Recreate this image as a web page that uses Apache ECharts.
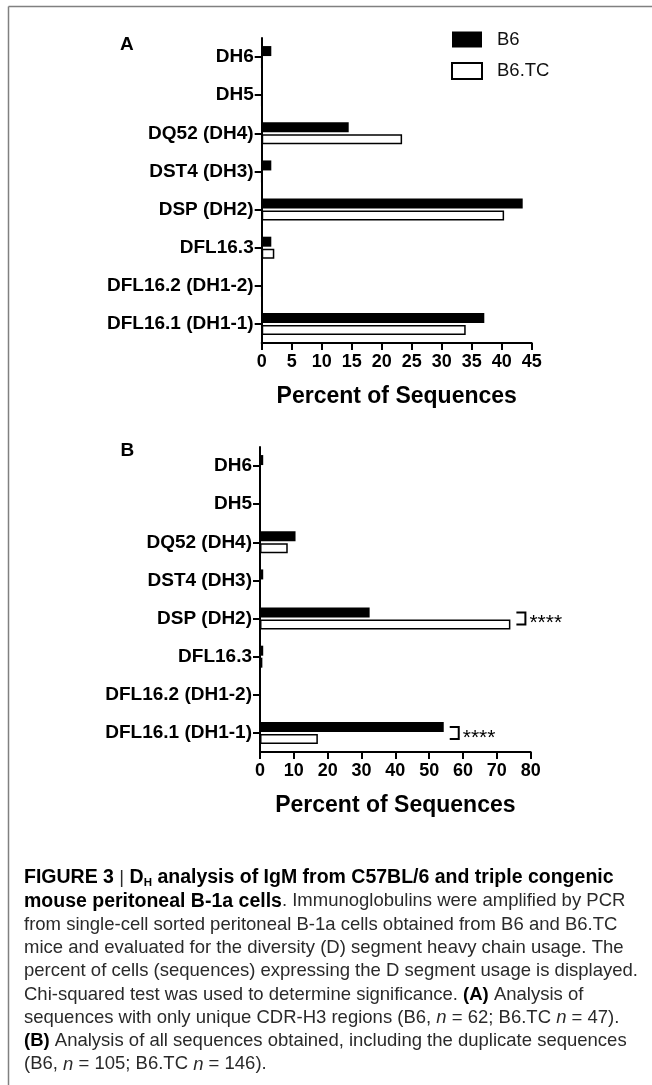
<!DOCTYPE html>
<html><head><meta charset="utf-8">
<script src="https://cdn.jsdelivr.net/npm/echarts@6/dist/echarts.min.js"></script>
<style>html,body{margin:0;padding:0;background:#fff}#c{width:652px;height:1085px}</style>
</head><body><div id="c"></div>
<script>
// ---- data ----
const categories = ['DH6', 'DH5', 'DQ52 (DH4)', 'DST4 (DH3)', 'DSP (DH2)', 'DFL16.3', 'DFL16.2 (DH1-2)', 'DFL16.1 (DH1-1)'];
const seriesNames = ['B6', 'B6.TC'];
const b6A = [1.6, 0, 14.5, 1.6, 43.5, 1.6, 0, 37.1];
const tcA = [0, 0, 23.4, 0, 40.4, 2.1, 0, 34.0];
const b6B = [0.95, 0, 10.5, 0.95, 32.4, 0.95, 0, 54.3];
const tcB = [0, 0, 8.2, 0, 74.0, 0.7, 0, 17.1];
const sigB = [{cat: 'DSP (DH2)', text: '****'}, {cat: 'DFL16.1 (DH1-1)', text: '****'}];
const axisA = {min: 0, max: 45, interval: 5};
const axisB = {min: 0, max: 80, interval: 10};
const axisTitle = 'Percent of Sequences';
const panelLabels = ['A', 'B'];

const FF = "'Liberation Sans', Arial, Helvetica, sans-serif";
const chart = echarts.init(document.getElementById('c'), null, {renderer: 'canvas'});

function xAxis(idx, cfg) {
  return {
    type: 'value', gridIndex: idx, min: cfg.min, max: cfg.max, interval: cfg.interval,
    axisLine: {show: true, lineStyle: {color: '#000', width: 2}},
    axisTick: {show: true, length: 7, lineStyle: {color: '#000', width: 2}},
    axisLabel: {color: '#000', fontWeight: 'bold', fontSize: 18, fontFamily: FF, margin: 10},
    splitLine: {show: false},
    name: axisTitle, nameLocation: 'middle', nameGap: 42,
    nameTextStyle: {fontSize: 23, fontWeight: 'bold', color: '#000', fontFamily: FF}
  };
}
function yAxis(idx) {
  return {
    type: 'category', gridIndex: idx, data: categories, inverse: true,
    axisLine: {show: true, lineStyle: {color: '#000', width: 2}},
    axisTick: {show: true, length: 7, alignWithLabel: true, lineStyle: {color: '#000', width: 2}},
    axisLabel: {color: '#000', fontWeight: 'bold', fontSize: 19, fontFamily: FF, margin: 8, interval: 0}
  };
}
function bars(idx, data, isTC) {
  return {
    type: 'bar', name: isTC ? seriesNames[1] : seriesNames[0], xAxisIndex: idx, yAxisIndex: idx,
    data: data, barWidth: 10, barGap: '20%',
    itemStyle: isTC ? {color: '#fff', borderColor: '#000', borderWidth: 1.5} : {color: '#000'},
    emphasis: {disabled: true}, animation: false
  };
}

const captionLines = [
  '{h|FIGURE 3 }{r||}{h| D}{sub|H}{h| analysis of IgM from C57BL/6 and triple congenic}',
  '{h|mouse peritoneal B-1a cells}{r|. Immunoglobulins were amplified by PCR}',
  '{r|from single-cell sorted peritoneal B-1a cells obtained from B6 and B6.TC}',
  '{r|mice and evaluated for the diversity (D) segment heavy chain usage. The}',
  '{r|percent of cells (sequences) expressing the D segment usage is displayed.}',
  '{r|Chi-squared test was used to determine significance. }{b|(A)}{r| Analysis of}',
  '{r|sequences with only unique CDR-H3 regions (B6, }{i|n}{r| = 62; B6.TC }{i|n}{r| = 47).}',
  '{b|(B)}{r| Analysis of all sequences obtained, including the duplicate sequences}',
  '{r|(B6, }{i|n}{r| = 105; B6.TC }{i|n}{r| = 146).}'
];
const CAP = 18.5;
const CAPB = 19.5;
const rich = {
  r: {fontSize: CAP, fontFamily: FF, fill: '#2a2a2a', lineHeight: 22},
  h: {fontSize: CAPB, fontFamily: FF, fontWeight: 'bold', fill: '#000', lineHeight: 22},
  b: {fontSize: CAP, fontFamily: FF, fontWeight: 'bold', fill: '#000', lineHeight: 22},
  i: {fontSize: CAP, fontFamily: FF, fontStyle: 'italic', fill: '#2a2a2a', lineHeight: 22},
  sub: {fontSize: 11.5, fontFamily: FF, fontWeight: 'bold', fill: '#000', lineHeight: 12, verticalAlign: 'bottom'}
};

const graphics = [
  {type: 'line', shape: {x1: 8.5, y1: 6.5, x2: 652, y2: 6.5}, style: {stroke: '#808080', lineWidth: 1.5}},
  {type: 'line', shape: {x1: 8.5, y1: 6.5, x2: 8.5, y2: 1085}, style: {stroke: '#808080', lineWidth: 1.5}},
  {type: 'text', x: 120, y: 44.5, style: {text: panelLabels[0], fontSize: 19, fontWeight: 'bold', fontFamily: FF, fill: '#000', verticalAlign: 'middle'}},
  {type: 'text', x: 120.5, y: 451, style: {text: panelLabels[1], fontSize: 19, fontWeight: 'bold', fontFamily: FF, fill: '#000', verticalAlign: 'middle'}}
];
captionLines.forEach((t, k) => {
  graphics.push({type: 'text', x: 24, y: 878 + k * 23.3, style: {text: t, rich: rich, verticalAlign: 'middle', fontSize: CAP, fontFamily: FF}});
});

const option = {
  backgroundColor: '#fff',
  animation: false,
  grid: [
    {left: 261.7, top: 38, width: 270, height: 305, outerBoundsMode: 'none', containLabel: false},
    {left: 260, top: 447, width: 270.7, height: 305, outerBoundsMode: 'none', containLabel: false}
  ],
  legend: {
    data: seriesNames, orient: 'vertical', left: 446, top: 25, icon: 'rect',
    itemWidth: 30, itemHeight: 16, itemGap: 12.5,
    textStyle: {fontSize: 18.5, color: '#111', fontFamily: FF, padding: [0, 0, 0, 10]},
    selectedMode: false
  },
  xAxis: [xAxis(0, axisA), xAxis(1, axisB)],
  yAxis: [yAxis(0), yAxis(1)],
  series: [
    bars(0, b6A, false), bars(0, tcA, true),
    bars(1, b6B, false), bars(1, tcB, true),
    {
      type: 'custom', xAxisIndex: 1, yAxisIndex: 1, silent: true, z: 5,
      data: sigB.map(s => { const i = categories.indexOf(s.cat); return [Math.max(b6B[i], tcB[i]), i]; }),
      encode: {x: 0, y: 1},
      renderItem: function (params, api) {
        const p = api.coord([api.value(0), api.value(1)]);
        const x0 = p[0] + 6, x1 = x0 + 9, y0 = p[1] - 6, y1 = p[1] + 6;
        return {type: 'group', children: [
          {type: 'polyline', shape: {points: [[x0, y0], [x1, y0], [x1, y1], [x0, y1]]}, style: {stroke: '#000', lineWidth: 2, fill: null}},
          {type: 'text', x: x1 + 4, y: p[1] + 5, style: {text: sigB[params.dataIndex].text, fontSize: 21, fontFamily: FF, fill: '#000', verticalAlign: 'middle'}}
        ]};
      }
    }
  ],
  graphic: graphics
};
chart.setOption(option);
</script></body></html>
